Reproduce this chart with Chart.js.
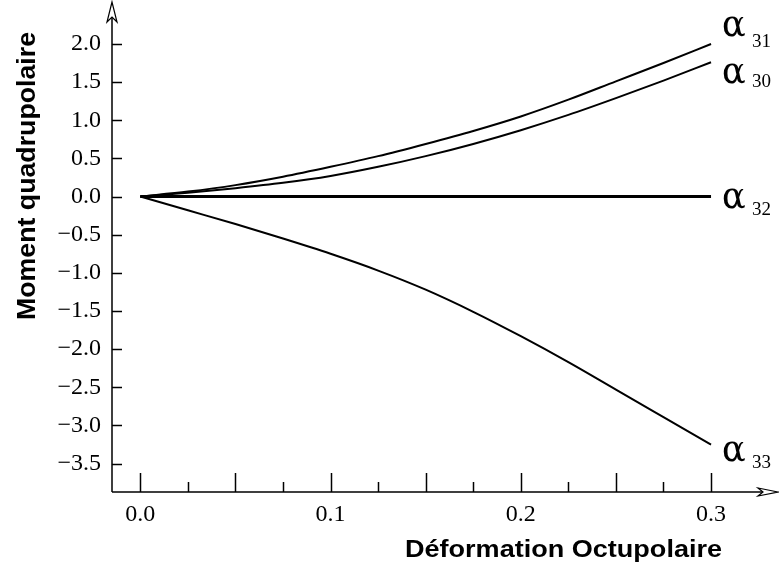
<!DOCTYPE html>
<html>
<head>
<meta charset="utf-8">
<script src="https://cdn.jsdelivr.net/npm/chart.js@4.4.1/dist/chart.umd.min.js"></script>
<style>
  html, body { margin: 0; padding: 0; background: #fff; }
  #wrap { width: 779px; height: 571px; }
</style>
</head>
<body>
<div id="wrap"><canvas id="chart" width="779" height="571"></canvas></div>
<script>
// octupole deformation (x) and quadrupole moment (y)
const deformation = [0, 0.025, 0.05, 0.075, 0.1, 0.125, 0.15, 0.175, 0.2, 0.225, 0.25, 0.275, 0.3];
const alpha31 = [0, 0.065, 0.15, 0.26, 0.39, 0.53, 0.69, 0.86, 1.05, 1.27, 1.51, 1.75, 2.00];
const alpha30 = [0, 0.05, 0.11, 0.18, 0.27, 0.39, 0.53, 0.69, 0.87, 1.07, 1.29, 1.52, 1.76];
const alpha32 = [0, 0, 0, 0, 0, 0, 0, 0, 0, 0, 0, 0, 0];
const alpha33 = [0, -0.18, -0.36, -0.55, -0.75, -0.97, -1.22, -1.51, -1.83, -2.17, -2.53, -2.89, -3.25];
const seriesNames = ["31", "30", "32", "33"];

const xTickLabels = [0.0, 0.1, 0.2, 0.3];
const xMajorMarks = [0, 0.05, 0.1, 0.15, 0.2, 0.25, 0.3];
const xMinorMarks = [0.025, 0.075, 0.125, 0.175, 0.225, 0.275];
const yTickLabels = [-3.5, -3.0, -2.5, -2.0, -1.5, -1.0, -0.5, 0.0, 0.5, 1.0, 1.5, 2.0];

const xTitle = "Déformation Octupolaire";
const yTitle = "Moment quadrupolaire";

function toPoints(ys) {
    return deformation.map((x, i) => ({ x: x, y: ys[i] }));
}

const fmt = (v) => v.toFixed(1).replace("-", "\u2212");

// label offsets next to the end of each curve: [alpha dy, subscript dy]
const labelOffsets = [[-8, 3], [21, 25], [11, 18], [16, 23]];

const axesPlugin = {
    id: "axesPlugin",
    afterDraw(chart) {
        const ctx = chart.ctx;
        const area = chart.chartArea;
        const xs = chart.scales.x;
        const ys = chart.scales.y;
        const left = area.left;
        const bottom = area.bottom;

        ctx.save();
        ctx.strokeStyle = "#000";
        ctx.fillStyle = "#000";
        ctx.lineWidth = 1.5;

        // axis lines
        ctx.beginPath();
        ctx.moveTo(left, bottom);
        ctx.lineTo(left, area.top + 2);
        ctx.moveTo(left, bottom);
        ctx.lineTo(area.right - 2, bottom);
        ctx.stroke();

        // arrow heads (open)
        ctx.lineWidth = 1.2;
        ctx.fillStyle = "#fff";
        ctx.beginPath();
        ctx.moveTo(left, area.top);
        ctx.lineTo(left - 5, area.top + 20);
        ctx.lineTo(left, area.top + 15);
        ctx.lineTo(left + 5, area.top + 20);
        ctx.closePath();
        ctx.fill();
        ctx.stroke();
        ctx.beginPath();
        ctx.moveTo(area.right, bottom);
        ctx.lineTo(area.right - 20, bottom - 4);
        ctx.lineTo(area.right - 15, bottom);
        ctx.lineTo(area.right - 20, bottom + 4);
        ctx.closePath();
        ctx.fill();
        ctx.stroke();

        // tick marks
        ctx.lineWidth = 1.5;
        ctx.beginPath();
        yTickLabels.forEach((v) => {
            const py = Math.round(ys.getPixelForValue(v)) + 0.5;
            ctx.moveTo(left, py);
            ctx.lineTo(left + 10, py);
        });
        xMajorMarks.forEach((v) => {
            const px = Math.round(xs.getPixelForValue(v)) + 0.5;
            ctx.moveTo(px, bottom);
            ctx.lineTo(px, bottom - 19);
        });
        xMinorMarks.forEach((v) => {
            const px = Math.round(xs.getPixelForValue(v)) + 0.5;
            ctx.moveTo(px, bottom);
            ctx.lineTo(px, bottom - 10);
        });
        ctx.stroke();

        // axis titles
        ctx.fillStyle = "#000";
        ctx.textAlign = "left";
        ctx.textBaseline = "alphabetic";
        ctx.font = "bold 24px 'Liberation Sans', Arial, sans-serif";
        let w = ctx.measureText(xTitle).width;
        ctx.save();
        ctx.translate(405, 557);
        ctx.scale(317 / w, 1);
        ctx.fillText(xTitle, 0, 0);
        ctx.restore();

        ctx.font = "bold 25px 'Liberation Sans', Arial, sans-serif";
        w = ctx.measureText(yTitle).width;
        ctx.save();
        ctx.translate(35, 320);
        ctx.rotate(-Math.PI / 2);
        ctx.scale(288 / w, 1);
        ctx.fillText(yTitle, 0, 0);
        ctx.restore();

        // curve labels
        chart.data.datasets.forEach((ds, i) => {
            const meta = chart.getDatasetMeta(i);
            const pt = meta.data[meta.data.length - 1];
            ctx.font = "35px 'DejaVu Serif', serif";
            ctx.fillText("\u03b1", pt.x + 11, pt.y + labelOffsets[i][0]);
            ctx.font = "19px 'Liberation Serif', 'Times New Roman', serif";
            ctx.fillText(seriesNames[i], pt.x + 41, pt.y + labelOffsets[i][1]);
        });

        ctx.restore();
    },
};

const lineStyle = {
    borderColor: "#000",
    borderWidth: 2,
    pointRadius: 0,
    fill: false,
    cubicInterpolationMode: "monotone",
};

const chart = new Chart(document.getElementById("chart"), {
    type: "line",
    data: {
        datasets: [
            { ...lineStyle, label: "α31", data: toPoints(alpha31) },
            { ...lineStyle, label: "α30", data: toPoints(alpha30) },
            { ...lineStyle, label: "α32", data: toPoints(alpha32), borderWidth: 3 },
            { ...lineStyle, label: "α33", data: toPoints(alpha33) },
        ],
    },
    options: {
        responsive: false,
        animation: false,
        layout: { padding: { top: 2, right: 1, left: 0, bottom: 0 } },
        plugins: {
            legend: { display: false },
            tooltip: { enabled: false },
        },
        scales: {
            x: {
                type: "linear",
                min: -0.0149,
                max: 0.3352,
                grid: { display: false, drawTicks: false },
                border: { display: false },
                afterBuildTicks: (scale) => {
                    scale.ticks = xTickLabels.map((v) => ({ value: v }));
                },
                afterFit: (scale) => {
                    scale.height = 79;
                    scale.paddingLeft = 0;
                    scale.paddingRight = 0;
                },
                ticks: {
                    autoSkip: false,
                    maxRotation: 0,
                    padding: 8,
                    color: "#000",
                    font: { family: "'Liberation Serif', 'Times New Roman', serif", size: 24 },
                    callback: (v) => fmt(v),
                },
            },
            y: {
                type: "linear",
                min: -3.872,
                max: 2.55,
                grid: { display: false, drawTicks: false },
                border: { display: false },
                afterBuildTicks: (scale) => {
                    scale.ticks = yTickLabels.map((v) => ({ value: v }));
                },
                afterFit: (scale) => {
                    scale.width = 112;
                    scale.paddingTop = 0;
                    scale.paddingBottom = 0;
                },
                ticks: {
                    autoSkip: false,
                    padding: 11,
                    color: "#000",
                    font: { family: "'Liberation Serif', 'Times New Roman', serif", size: 24 },
                    callback: (v) => fmt(v),
                },
            },
        },
    },
    plugins: [axesPlugin],
});
</script>
</body>
</html>
